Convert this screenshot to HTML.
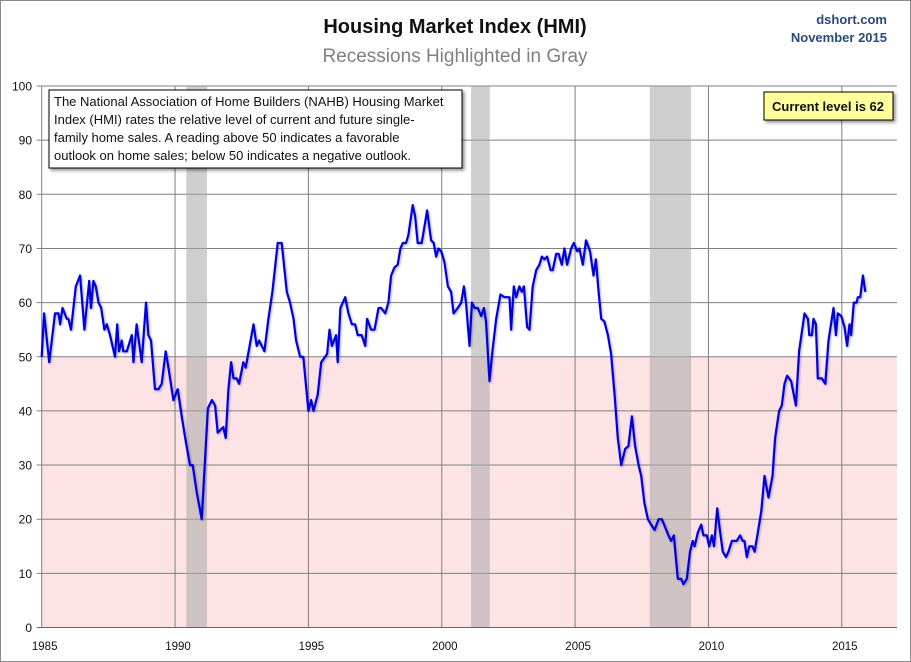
<!DOCTYPE html>
<html><head><meta charset="utf-8"><style>
body{margin:0;background:#fff;}
svg{display:block;font-family:"Liberation Sans",sans-serif;}
</style></head><body>
<svg id="chart" width="911" height="662" viewBox="0 0 911 662">
<defs>
<filter id="sh" x="-10%" y="-10%" width="130%" height="130%"><feDropShadow dx="2" dy="2" stdDeviation="1.5" flood-color="#000" flood-opacity="0.45"/></filter>
<filter id="lsh"><feDropShadow dx="1" dy="1" stdDeviation="1" flood-color="#0000aa" flood-opacity="0.35"/></filter>
</defs>
<rect x="0.5" y="0.5" width="910" height="661" fill="#fff" stroke="#8a8a8a"/>
<text x="455" y="33" text-anchor="middle" font-size="20" font-weight="bold" fill="#111">Housing Market Index (HMI)</text>
<text x="455" y="62" text-anchor="middle" font-size="19" fill="#808080">Recessions Highlighted in Gray</text>
<text x="887" y="24" text-anchor="end" font-size="13" font-weight="bold" fill="#2c4a78">dshort.com</text>
<text x="887" y="42" text-anchor="end" font-size="13" font-weight="bold" fill="#2c4a78">November 2015</text>
<g id="plot"></g>
<g id="overlay">
<rect x="49" y="90" width="413" height="78" fill="#fff" stroke="#000" stroke-width="1" filter="url(#sh)"/>
<text font-size="13" fill="#111">
<tspan x="54" y="106">The National Association of Home Builders (NAHB) Housing Market</tspan>
<tspan x="54" y="124">Index (HMI) rates the relative level of current and future single-</tspan>
<tspan x="54" y="142">family home sales. A reading above 50 indicates a favorable</tspan>
<tspan x="54" y="160">outlook on home sales; below 50 indicates a negative outlook.</tspan>
</text>
<rect x="764" y="92" width="129" height="28" fill="#ffff99" stroke="#000" stroke-width="1" filter="url(#sh)"/>
<text x="828" y="111" text-anchor="middle" font-size="13" font-weight="bold" fill="#111">Current level is 62</text>
</g>
</svg>
<script>
const years=[1985.00,1985.09,1985.28,1985.50,1985.63,1985.69,1985.78,1985.94,1986.00,1986.10,1986.28,1986.44,1986.60,1986.78,1986.85,1986.94,1987.03,1987.13,1987.23,1987.35,1987.44,1987.56,1987.75,1987.83,1987.90,1988.00,1988.06,1988.19,1988.38,1988.44,1988.56,1988.75,1988.91,1989.00,1989.10,1989.25,1989.38,1989.50,1989.65,1989.75,1989.94,1990.10,1990.25,1990.38,1990.56,1990.66,1990.81,1991.00,1991.23,1991.38,1991.50,1991.60,1991.81,1991.90,1992.00,1992.10,1992.19,1992.31,1992.40,1992.56,1992.65,1992.94,1993.06,1993.15,1993.35,1993.50,1993.65,1993.85,1994.00,1994.19,1994.31,1994.44,1994.54,1994.69,1994.81,1995.00,1995.10,1995.19,1995.35,1995.48,1995.70,1995.79,1995.88,1996.04,1996.10,1996.20,1996.38,1996.50,1996.63,1996.75,1996.85,1997.00,1997.13,1997.20,1997.35,1997.48,1997.63,1997.73,1997.88,1998.00,1998.10,1998.23,1998.35,1998.45,1998.54,1998.66,1998.75,1998.91,1999.00,1999.10,1999.25,1999.45,1999.60,1999.70,1999.79,1999.88,1999.98,2000.10,2000.23,2000.35,2000.44,2000.60,2000.73,2000.83,2000.91,2001.04,2001.13,2001.23,2001.35,2001.48,2001.58,2001.66,2001.79,2001.91,2002.04,2002.20,2002.35,2002.54,2002.60,2002.70,2002.79,2002.91,2003.00,2003.08,2003.13,2003.20,2003.29,2003.41,2003.54,2003.66,2003.75,2003.85,2003.95,2004.08,2004.16,2004.29,2004.38,2004.50,2004.60,2004.70,2004.85,2004.95,2005.08,2005.16,2005.29,2005.41,2005.56,2005.69,2005.78,2005.88,2005.98,2006.10,2006.23,2006.35,2006.48,2006.60,2006.73,2006.88,2007.00,2007.13,2007.25,2007.38,2007.48,2007.60,2007.73,2007.85,2007.98,2008.13,2008.25,2008.38,2008.50,2008.60,2008.70,2008.85,2008.98,2009.06,2009.19,2009.31,2009.41,2009.48,2009.60,2009.73,2009.81,2009.94,2010.03,2010.13,2010.21,2010.33,2010.44,2010.54,2010.66,2010.75,2010.88,2011.06,2011.19,2011.28,2011.35,2011.44,2011.53,2011.65,2011.73,2011.85,2011.98,2012.10,2012.25,2012.40,2012.50,2012.65,2012.75,2012.85,2012.95,2013.10,2013.28,2013.40,2013.60,2013.73,2013.78,2013.88,2013.94,2014.03,2014.10,2014.25,2014.38,2014.50,2014.69,2014.78,2014.85,2014.98,2015.10,2015.20,2015.29,2015.35,2015.45,2015.55,2015.60,2015.69,2015.79,2015.88];
const hmi=[50,58,49,58,58,56,59,57,57,55,63,65,55,64,59,64,63,60,59,55,56,54,50,56,51,53,51,51,54,49,56,49,60,54,53,44,44,45,51,48,42,44,39,35,30,30,25,20,40.5,42,41,36,37,35,44,49,46,46,45,49,48,56,52,53,51,57,62,71,71,62,60,57,53,50,50,40,42,40,43,49,50.5,55,52,54,49,59,61,58,56,56,54,54,52,57,55,55,59,59,58,60,65,66.5,67,70,71,71,72.5,78,76,71,71,77,71.5,71,68.5,70,69.5,67.5,63,62,58,59,60,63,60,52,60,59,59,57.5,59,56.5,45.5,51.5,57,61.5,61,61,55,63,61,63,62,63,60,55.5,55,63,66,67,68.5,68,68.5,66,66,69,69,67,70,67,70,71,69.5,70,67,71.5,69.5,65,68,62,57,56.5,54,50.5,43,35,30,33,33.5,39,33.5,30,28,23,20,19,18,20,20,18.5,17,16,17,9,9,8,9,14,16,15,17.5,19,17,17,15,17,15,22,17.5,14,13,14,16,16,17,16,16,13,15,15,14,17.5,21.5,28,24,28,35,40,41,45,46.5,45.5,41,51,58,57,54,54,57,56,46,46,45,53,59,54,58,57.5,55.5,52,56,54,60,60,61,61,65,62];
const recessionStarts=[1990.42,2001.1,2007.8];
const recessionEnds=[1991.2,2001.8,2009.35];
const yTicks=[0,10,20,30,40,50,60,70,80,90,100];
const xTicks=[1985,1990,1995,2000,2005,2010,2015];

const NS='http://www.w3.org/2000/svg';
const L=41.7,R=897,T=86,B=627.5,X0=1985,X1=2017.07;
function X(y){return L+(y-X0)/(X1-X0)*(R-L);}
function Y(v){return B-v/100*(B-T);}
const g=document.getElementById('plot');
function mk(tag,attrs){const e=document.createElementNS(NS,tag);for(const k in attrs)e.setAttribute(k,attrs[k]);g.appendChild(e);return e;}

const pink=mk('rect',{x:L,y:Y(50),width:R-L,height:B-Y(50),fill:'#fde3e3'});



for(const t of yTicks){
  const ln=mk('line',{x1:L-5,x2:R,y1:Y(t),y2:Y(t),stroke:'#808080','stroke-width':1});
  
  
  const tx=mk('text',{x:32,y:Y(t)+4.5,'text-anchor':'end','font-size':12,fill:'#111'});
  tx.textContent=t;
  
  
}
for(const t of xTicks){
  if(t>X0){
    const ln=mk('line',{x1:X(t),x2:X(t),y1:T,y2:B,stroke:'#808080','stroke-width':1});
    
    
  }
  const tx=mk('text',{x:X(t)+3,y:650,'text-anchor':'middle','font-size':11.5,fill:'#111'});
  tx.textContent=t;
  
  
}
for(let i=0;i<recessionStarts.length;i++){
  const r=mk('rect',{x:X(recessionStarts[i]),y:T,width:X(recessionEnds[i])-X(recessionStarts[i]),height:B-T,fill:'#a8a8a8','fill-opacity':0.55});
  
  
}
const ax=mk('line',{x1:L,x2:L,y1:T,y2:B,stroke:'#808080','stroke-width':1});


const xa=mk('line',{x1:L-5,x2:R,y1:B,y2:B,stroke:'#666','stroke-width':1});



let d='';
for(let i=0;i<years.length;i++){d+=(i?'L':'M')+X(years[i]).toFixed(1)+' '+Y(hmi[i]).toFixed(1);}
const line=mk('path',{d:d,fill:'none',stroke:'#0000dd','stroke-width':2.2,'stroke-linejoin':'round',filter:'url(#lsh)'});


</script>
</body></html>
